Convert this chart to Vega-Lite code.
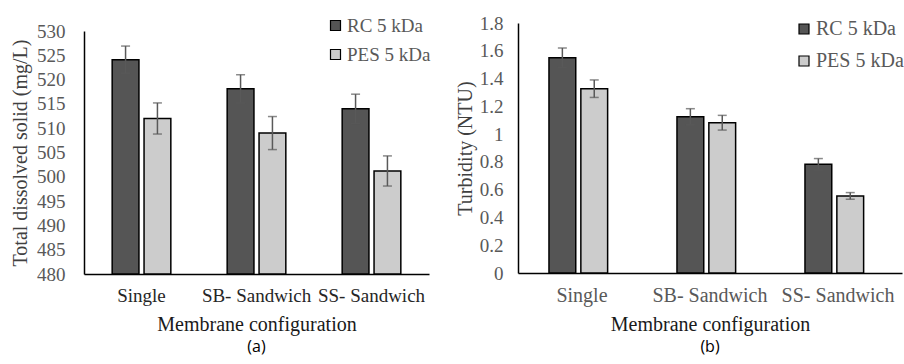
{
  "$schema": "https://vega.github.io/schema/vega-lite/v6.json",
  "padding": {"left": 10, "top": 14, "right": 0, "bottom": 6},
  "background": "white",
  "spacing": 24,
  "resolve": {"scale": {"fill": "independent"}, "legend": {"fill": "independent"}},
  "config": {
    "font": "Liberation Serif",
    "view": {"stroke": null},
    "axis": {"grid": false, "ticks": false, "labelOverlap": false, "domainColor": "#000000", "domainWidth": 1.5, "labelFont": "Liberation Serif", "labelFontSize": 19, "labelColor": "#595959", "titleFont": "Liberation Serif", "titleFontSize": 20, "titleFontWeight": "normal", "titleColor": "#1a1a1a"},
    "legend": {"symbolType": "square", "symbolSize": 100, "symbolStrokeColor": "#000000", "symbolStrokeWidth": 1.2, "labelFont": "Liberation Serif", "labelFontSize": 19, "labelColor": "#595959", "labelOffset": 2, "title": null},
    "title": {"font": "Open Sans", "fontSize": 16, "fontWeight": "normal", "orient": "bottom", "color": "#000000", "offset": 5}
  },
  "datasets": {
    "tds": [
      {"config": "Single", "membrane": "RC 5 kDa", "value": 524.1, "lo": 521.3, "hi": 526.9},
      {"config": "Single", "membrane": "PES 5 kDa", "value": 512.0, "lo": 508.8, "hi": 515.2},
      {"config": "SB- Sandwich", "membrane": "RC 5 kDa", "value": 518.1, "lo": 515.2, "hi": 521.0},
      {"config": "SB- Sandwich", "membrane": "PES 5 kDa", "value": 509.0, "lo": 505.6, "hi": 512.4},
      {"config": "SS- Sandwich", "membrane": "RC 5 kDa", "value": 514.0, "lo": 511.0, "hi": 517.0},
      {"config": "SS- Sandwich", "membrane": "PES 5 kDa", "value": 501.2, "lo": 498.1, "hi": 504.3}
    ],
    "turb": [
      {"config": "Single", "membrane": "RC 5 kDa", "value": 1.55, "lo": 1.48, "hi": 1.62},
      {"config": "Single", "membrane": "PES 5 kDa", "value": 1.327, "lo": 1.264, "hi": 1.39},
      {"config": "SB- Sandwich", "membrane": "RC 5 kDa", "value": 1.125, "lo": 1.067, "hi": 1.183},
      {"config": "SB- Sandwich", "membrane": "PES 5 kDa", "value": 1.082, "lo": 1.029, "hi": 1.135},
      {"config": "SS- Sandwich", "membrane": "RC 5 kDa", "value": 0.783, "lo": 0.742, "hi": 0.824},
      {"config": "SS- Sandwich", "membrane": "PES 5 kDa", "value": 0.555, "lo": 0.531, "hi": 0.579}
    ]
  },
  "hconcat": [
    {
      "width": 345,
      "height": 251,
      "title": {"text": "(a)"},
      "data": {"name": "tds"},
      "encoding": {
        "x": {"field": "config", "type": "nominal", "title": "Membrane configuration", "sort": ["Single", "SB- Sandwich", "SS- Sandwich"], "scale": {"paddingInner": 0.49, "paddingOuter": 0.245}, "axis": {"labelAngle": 0, "labelPadding": 12, "labelColor": "#262626", "titlePadding": 9, "labelFont": "Liberation Serif", "titleFont": "Liberation Serif", "labelFontSize": 19, "titleFontSize": 20}},
        "xOffset": {"field": "membrane", "type": "nominal", "sort": ["RC 5 kDa", "PES 5 kDa"], "scale": {"paddingInner": 0.16}}
      },
      "layer": [
        {
          "mark": {"type": "bar", "stroke": "#000000", "strokeWidth": 1.5},
          "encoding": {
            "y": {"field": "value", "type": "quantitative", "title": "Total dissolved solid (mg/L)", "scale": {"domain": [480, 530], "zero": false, "nice": false, "range": [251, 8]}, "axis": {"values": [480, 485, 490, 495, 500, 505, 510, 515, 520, 525, 530], "labelPadding": 19, "titlePadding": 6, "titleColor": "#404040", "labelFont": "Liberation Serif", "titleFont": "Liberation Serif", "labelFontSize": 19, "titleFontSize": 20}},
            "y2": {"datum": 480},
            "fill": {"field": "membrane", "type": "nominal", "scale": {"domain": ["RC 5 kDa", "PES 5 kDa"], "range": ["#555555", "#cccccc"]}, "legend": {"orient": "none", "legendX": 242, "legendY": -7, "rowPadding": 9}}
          }
        },
        {
          "mark": {"type": "rule", "color": "#595959", "strokeWidth": 1.5},
          "encoding": {
            "y": {"field": "lo", "type": "quantitative", "title": "Total dissolved solid (mg/L)", "scale": {"domain": [480, 530], "zero": false, "nice": false, "range": [251, 8]}, "axis": {"values": [480, 485, 490, 495, 500, 505, 510, 515, 520, 525, 530], "labelPadding": 19, "titlePadding": 6, "titleColor": "#404040", "labelFont": "Liberation Serif", "titleFont": "Liberation Serif", "labelFontSize": 19, "titleFontSize": 20}},
            "y2": {"field": "hi"}
          }
        },
        {
          "mark": {"type": "tick", "color": "#595959", "thickness": 1.5, "size": 9},
          "encoding": {"y": {"field": "lo", "type": "quantitative", "title": "Total dissolved solid (mg/L)", "scale": {"domain": [480, 530], "zero": false, "nice": false, "range": [251, 8]}, "axis": {"values": [480, 485, 490, 495, 500, 505, 510, 515, 520, 525, 530], "labelPadding": 19, "titlePadding": 6, "titleColor": "#404040", "labelFont": "Liberation Serif", "titleFont": "Liberation Serif", "labelFontSize": 19, "titleFontSize": 20}}}
        },
        {
          "mark": {"type": "tick", "color": "#595959", "thickness": 1.5, "size": 9},
          "encoding": {"y": {"field": "hi", "type": "quantitative", "title": "Total dissolved solid (mg/L)", "scale": {"domain": [480, 530], "zero": false, "nice": false, "range": [251, 8]}, "axis": {"values": [480, 485, 490, 495, 500, 505, 510, 515, 520, 525, 530], "labelPadding": 19, "titlePadding": 6, "titleColor": "#404040", "labelFont": "Liberation Serif", "titleFont": "Liberation Serif", "labelFontSize": 19, "titleFontSize": 20}}}
        }
      ]
    },
    {
      "width": 384,
      "height": 250,
      "title": {"text": "(b)"},
      "data": {"name": "turb"},
      "encoding": {
        "x": {"field": "config", "type": "nominal", "title": "Membrane configuration", "sort": ["Single", "SB- Sandwich", "SS- Sandwich"], "scale": {"paddingInner": 0.484, "paddingOuter": 0.242}, "axis": {"labelAngle": 0, "labelPadding": 12, "labelColor": "#595959", "titlePadding": 9, "labelFont": "Liberation Serif", "titleFont": "Liberation Serif", "labelFontSize": 20, "titleFontSize": 20}},
        "xOffset": {"field": "membrane", "type": "nominal", "sort": ["RC 5 kDa", "PES 5 kDa"], "scale": {"paddingInner": 0.167}}
      },
      "layer": [
        {
          "mark": {"type": "bar", "stroke": "#000000", "strokeWidth": 1.5},
          "encoding": {
            "y": {"field": "value", "type": "quantitative", "title": "Turbidity (NTU)", "scale": {"domain": [0, 1.8], "nice": false}, "axis": {"values": [0, 0.2, 0.4, 0.6, 0.8, 1, 1.2, 1.4, 1.6, 1.8], "format": "~g", "labelPadding": 15, "titlePadding": 4, "titleColor": "#404040", "labelFont": "Liberation Serif", "titleFont": "Liberation Serif", "labelFontSize": 19, "titleFontSize": 20}},
            "fill": {"field": "membrane", "type": "nominal", "scale": {"domain": ["RC 5 kDa", "PES 5 kDa"], "range": ["#555555", "#cccccc"]}, "legend": {"orient": "none", "legendX": 276, "legendY": -4, "rowPadding": 12, "labelFontSize": 20}}
          }
        },
        {
          "mark": {"type": "rule", "color": "#595959", "strokeWidth": 1.5},
          "encoding": {
            "y": {"field": "lo", "type": "quantitative", "title": "Turbidity (NTU)", "scale": {"domain": [0, 1.8], "nice": false}, "axis": {"values": [0, 0.2, 0.4, 0.6, 0.8, 1, 1.2, 1.4, 1.6, 1.8], "format": "~g", "labelPadding": 15, "titlePadding": 4, "titleColor": "#404040", "labelFont": "Liberation Serif", "titleFont": "Liberation Serif", "labelFontSize": 19, "titleFontSize": 20}},
            "y2": {"field": "hi"}
          }
        },
        {
          "mark": {"type": "tick", "color": "#595959", "thickness": 1.5, "size": 9},
          "encoding": {"y": {"field": "lo", "type": "quantitative", "title": "Turbidity (NTU)", "scale": {"domain": [0, 1.8], "nice": false}, "axis": {"values": [0, 0.2, 0.4, 0.6, 0.8, 1, 1.2, 1.4, 1.6, 1.8], "format": "~g", "labelPadding": 15, "titlePadding": 4, "titleColor": "#404040", "labelFont": "Liberation Serif", "titleFont": "Liberation Serif", "labelFontSize": 19, "titleFontSize": 20}}}
        },
        {
          "mark": {"type": "tick", "color": "#595959", "thickness": 1.5, "size": 9},
          "encoding": {"y": {"field": "hi", "type": "quantitative", "title": "Turbidity (NTU)", "scale": {"domain": [0, 1.8], "nice": false}, "axis": {"values": [0, 0.2, 0.4, 0.6, 0.8, 1, 1.2, 1.4, 1.6, 1.8], "format": "~g", "labelPadding": 15, "titlePadding": 4, "titleColor": "#404040", "labelFont": "Liberation Serif", "titleFont": "Liberation Serif", "labelFontSize": 19, "titleFontSize": 20}}}
        }
      ]
    }
  ]
}
